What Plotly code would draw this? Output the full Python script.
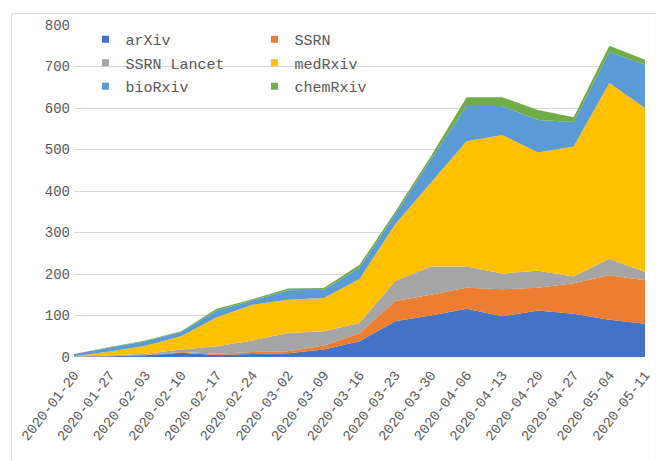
import plotly.graph_objects as go

dates = ["2020-01-20", "2020-01-27", "2020-02-03", "2020-02-10", "2020-02-17",
         "2020-02-24", "2020-03-02", "2020-03-09", "2020-03-16", "2020-03-23",
         "2020-03-30", "2020-04-06", "2020-04-13", "2020-04-20", "2020-04-27",
         "2020-05-04", "2020-05-11"]

arxiv    = [1, 2, 4, 10, 5, 7, 9, 18, 38, 86, 100, 116, 98, 112, 104, 90, 80]
ssrn     = [0, 1, 1, 2, 3, 5, 5, 10, 19, 49, 50, 51, 65, 55, 74, 107, 105]
lancet   = [0, 1, 3, 6, 18, 28, 44, 34, 25, 48, 68, 51, 38, 41, 16, 40, 20]
medrxiv  = [1, 9, 19, 32, 70, 86, 80, 80, 106, 137, 202, 302, 334, 285, 313, 423, 395]
biorxiv  = [5, 10, 11, 10, 16, 10, 23, 20, 27, 23, 56, 85, 70, 78, 59, 75, 105]
chemrxiv = [0, 1, 2, 2, 4, 3, 4, 4, 7, 7, 8, 21, 21, 24, 12, 15, 11]

series_names = ["arXiv", "SSRN", "SSRN Lancet", "medRxiv", "bioRxiv", "chemRxiv"]
series_vals = [arxiv, ssrn, lancet, medrxiv, biorxiv, chemrxiv]
colors = ["#4472C4", "#ED7D31", "#A5A5A5", "#FFC000", "#5B9BD5", "#70AD47"]
legend_of = ["legend", "legend2", "legend", "legend2", "legend", "legend2"]

FONT = "Liberation Mono"
TXT = "#595959"

fig = go.Figure()
for name, vals, col in zip(series_names, series_vals, colors):
    fig.add_trace(go.Scatter(
        x=dates, y=vals, name=name, stackgroup="one", mode="none",
        fillcolor=col, showlegend=False, hoverinfo="x+y+name"))

for name, col, lg in zip(series_names, colors, legend_of):
    fig.add_trace(go.Scatter(
        x=[None], y=[None], name=name, mode="markers",
        marker=dict(symbol="square", size=7, color=col),
        legend=lg, legendgroup=name, showlegend=True))

legend_common = dict(font=dict(family=FONT, size=15, color=TXT),
                     bgcolor="rgba(0,0,0,0)", borderwidth=0,
                     tracegroupgap=1, orientation="v",
                     xanchor="left", yanchor="top", itemwidth=30)

# page has an 8px body margin, so the figure is 8px smaller
fig.update_layout(
    width=656, height=453,
    margin=dict(l=64, r=10, t=12, b=104),
    paper_bgcolor="white", plot_bgcolor="white",
    font=dict(family=FONT, size=14, color=TXT),
    legend=dict(x=0.02, y=1.006, **legend_common),
    legend2=dict(x=0.316, y=1.006, **legend_common),
    xaxis=dict(type="category", range=[0, len(dates) - 1],
               tickangle=-52, showgrid=False, zeroline=False,
               showline=False, ticks="", ticklabelstandoff=6,
               tickfont=dict(family=FONT, size=14, color=TXT)),
    yaxis=dict(range=[0, 800], dtick=100, showgrid=True,
               gridcolor="#D9D9D9", gridwidth=1, zeroline=False,
               showline=False, ticks="", ticklabelstandoff=3,
               tickfont=dict(family=FONT, size=14, color=TXT)),
    shapes=[dict(type="rect", xref="paper", yref="paper",
                 x0=-0.109, x1=1.02, y0=-0.33, y1=1.034,
                 line=dict(color="#D9D9D9", width=1), layer="below")],
)

fig.write_html("out.html")
